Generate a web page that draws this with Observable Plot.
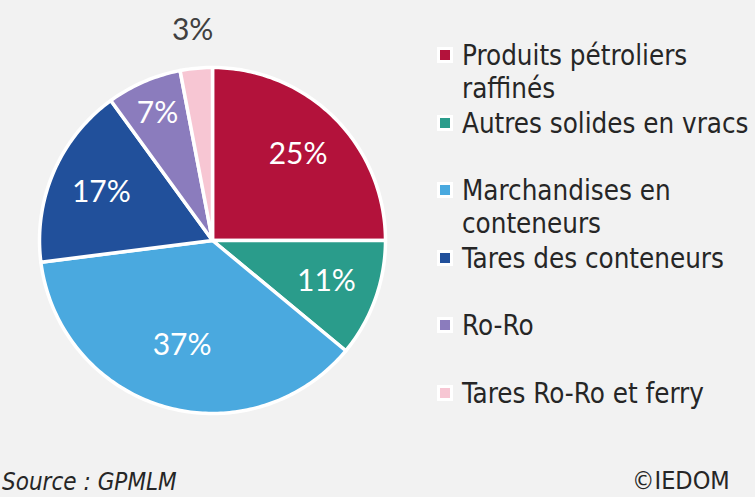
<!DOCTYPE html>
<html>
<head>
<meta charset="utf-8">
<script src="https://cdn.jsdelivr.net/npm/d3@7"></script>
<script src="https://cdn.jsdelivr.net/npm/@observablehq/plot@0.6"></script>
<style>
  html, body { margin: 0; padding: 0; background: #f2f2f2; }
  #wrap { position: relative; width: 755px; height: 497px; overflow: hidden; background: #f2f2f2; }
  #chart { position: absolute; left: 0; top: 0; }
  .leg { position: absolute; left: 437px; }
  .leg .mk { position: absolute; left: 0; top: 8px; width: 16px; height: 16px; background: #fff; }
  .leg .mk i { position: absolute; left: 3px; top: 3px; width: 10px; height: 10px; }
  .leg .tx { position: absolute; left: 25px; top: 0; width: 300px; font-family: "DejaVu Sans Condensed", "DejaVu Sans", sans-serif; font-stretch: condensed; font-size: 27.5px; line-height: 33px; color: #262626; }
  .foot { position: absolute; font-family: "DejaVu Sans Condensed", "DejaVu Sans", sans-serif; font-stretch: condensed; color: #262626; }
</style>
</head>
<body>
<div id="wrap">
  <div id="chart"></div>
</div>
<script>
// ---- data ----
const categories = ["Produits pétroliers raffinés", "Autres solides en vracs", "Marchandises en conteneurs", "Tares des conteneurs", "Ro-Ro", "Tares Ro-Ro et ferry"];
const shares = [25, 11, 37, 17, 7, 3];
const colors = ["#b3123b", "#2a9c8b", "#4aa9df", "#21509b", "#8b7cbd", "#f7c6d3"];
const sourceText = "Source : GPMLM";
const creditText = "©IEDOM";

// ---- build slice polygons from the pie layout ----
const pie = d3.pie().sort(null).value(d => d.v)(categories.map((c, i) => ({cat: c, v: shares[i]})));
const poly = [];
const labels = [];
pie.forEach(s => {
  const cat = s.data.cat;
  poly.push({cat, x: 0, y: 0});
  const n = Math.max(2, Math.ceil((s.endAngle - s.startAngle) / (Math.PI / 180)));
  for (let k = 0; k <= n; k++) {
    const a = s.startAngle + (s.endAngle - s.startAngle) * k / n;
    poly.push({cat, x: Math.sin(a), y: Math.cos(a)});
  }
  const mid = (s.startAngle + s.endAngle) / 2;
  const v = s.data.v;
  const outside = v < 5;
  const r = outside ? 1.22 : (v < 10 ? 0.8 : (v > 30 ? 0.63 : 0.7));
  labels.push({x: r * Math.sin(mid), y: r * Math.cos(mid), text: v + "%", outside});
});

const cx = 212, cy = 240, R = 173;
const chart = Plot.plot({
  width: 755,
  height: 497,
  margin: 0,
  style: {background: "transparent", overflow: "visible"},
  x: {domain: [-1, 1], range: [cx - R, cx + R], axis: null},
  y: {domain: [-1, 1], range: [cy + R, cy - R], axis: null},
  color: {domain: categories, range: colors},
  marks: [
    Plot.line(poly, {x: "x", y: "y", z: "cat", fill: "cat", stroke: "white", strokeWidth: 3.5, curve: "linear-closed", strokeLinejoin: "round"}),
    Plot.text(labels.filter(d => !d.outside), {x: "x", y: "y", text: "text", fill: "white", fontSize: 30, fontFamily: "Lato, 'Open Sans', sans-serif"}),
    Plot.text(labels.filter(d => d.outside), {x: "x", y: "y", text: "text", fill: "#404040", fontSize: 30, fontFamily: "Lato, 'Open Sans', sans-serif"})
  ]
});
document.getElementById("chart").appendChild(chart);

// ---- legend ----
const wrap = document.getElementById("wrap");
categories.forEach((c, i) => {
  const item = document.createElement("div");
  item.className = "leg";
  item.style.top = (39 + i * 67.6) + "px";
  item.innerHTML = `<div class="mk"><i style="background:${colors[i]}"></i></div><div class="tx"></div>`;
  item.querySelector(".tx").textContent = c;
  wrap.appendChild(item);
});

// ---- footer ----
const src = document.createElement("div");
src.className = "foot";
src.style.cssText = "left:2px; top:468px; font-size:24px; font-style:italic; line-height:28px;";
src.textContent = sourceText;
wrap.appendChild(src);
const cred = document.createElement("div");
cred.className = "foot";
cred.style.cssText = "left:632px; top:467px; font-size:25px; line-height:28px;";
cred.textContent = creditText;
wrap.appendChild(cred);
</script>
</body>
</html>
